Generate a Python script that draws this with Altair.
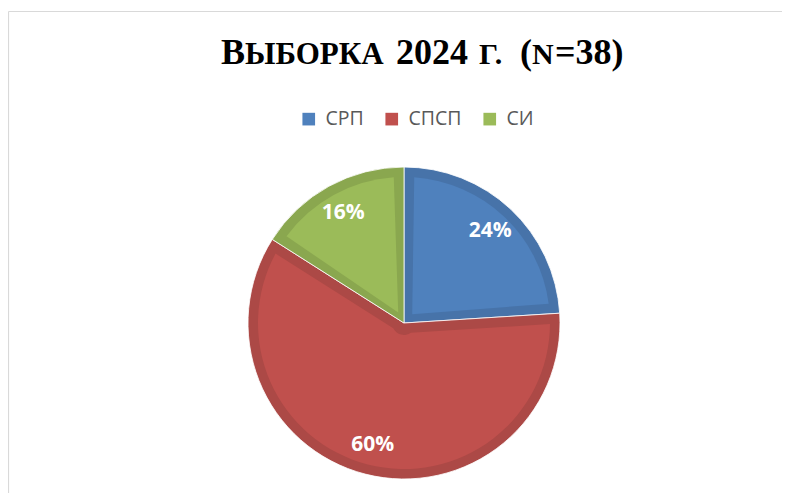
import altair as alt
import pandas as pd

# ---- data ----
categories = ["СРП", "СПСП", "СИ"]
shares = [24, 60, 16]
labels = [f"{v}%" for v in shares]

light_colors = ["#4F81BD", "#C0504D", "#9BBB59"]
dark_colors = ["#4773A9", "#AC4946", "#8AA74F"]

df = pd.DataFrame({"cat": categories, "val": shares, "lab": labels,
                   "idx": list(range(len(categories)))})

W, H = 774, 485
CX, CY = 396, 315
R_OUT, R_IN = 156, 146

base = alt.Chart(df).encode(
    theta=alt.Theta("val:Q", stack=True),
    order=alt.Order("idx:Q"),
    x=alt.value(CX),
    y=alt.value(CY),
)

dark = base.mark_arc(outerRadius=R_OUT, stroke="#ffffff", strokeWidth=0.8).encode(
    color=alt.Color("cat:N", scale=alt.Scale(domain=categories, range=dark_colors), legend=None)
)

light = base.mark_arc(outerRadius=R_IN, innerRadius=12, padAngle=0.14).encode(
    color=alt.Color(
        "cat:N",
        scale=alt.Scale(domain=categories, range=light_colors),
        legend=alt.Legend(
            title=None, orient="none", legendX=291, legendY=101, direction="horizontal",
            symbolType="square", symbolSize=160, symbolStrokeWidth=0, symbolOpacity=1,
            labelFont="Open Sans", labelFontSize=19.5, labelColor="#595959",
            labelOffset=7, columnPadding=18, padding=0,
        ),
    )
)

text = base.mark_text(radius=126, font="Open Sans", fontSize=21, fontWeight="bold",
                      color="white", baseline="middle", align="center").encode(
    text="lab:N"
)

one = pd.DataFrame({"a": [0]})

# title pieces emulating small caps: (text, font size, x)
title_parts = [("В", 36, 213), ("ЫБОРКА", 31, 237), ("2024", 36, 388), ("Г.", 30, 471),
               ("(", 36, 512), ("N", 30, 524), ("=38)", 36, 547)]
title_layers = [
    alt.Chart(one).mark_text(font="Liberation Serif", fontWeight="bold", fontSize=s,
                             align="left", baseline="alphabetic", color="#000000").encode(
        text=alt.value(t), x=alt.value(xp), y=alt.value(56))
    for t, s, xp in title_parts
]

frame_top = alt.Chart(one).mark_rule(color="#D9D9D9", strokeWidth=1.2).encode(
    x=alt.value(0.5), x2=alt.value(W), y=alt.value(3.5))
frame_left = alt.Chart(one).mark_rule(color="#D9D9D9", strokeWidth=1.2).encode(
    x=alt.value(0.5), y=alt.value(3.5), y2=alt.value(H))

chart = alt.layer(frame_top, frame_left, dark, light, text, *title_layers).resolve_scale(
    color="independent"
).properties(
    width=W, height=H, padding=0, autosize=alt.AutoSizeParams(type="none")
).configure_view(stroke=None)

chart.save("out.html", embed_options={"renderer": "svg", "actions": False})
